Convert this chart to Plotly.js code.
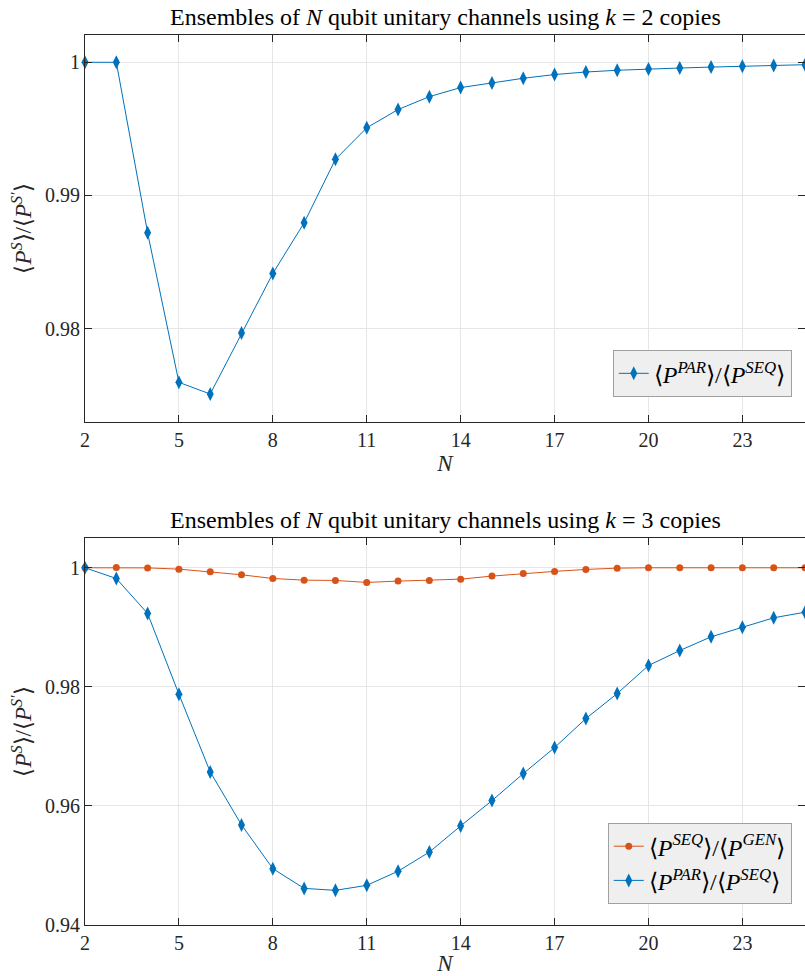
<!DOCTYPE html>
<html>
<head>
<meta charset="utf-8">
<script src="https://cdn.plot.ly/plotly-3.0.1.min.js"></script>
</head>
<body style="margin:0;background:#fff">
<div id="chartTop" style="width:805px;height:488px"></div>
<div id="chartBot" style="width:805px;height:488px"></div>
<script>
// ---- data ----
const N = [2,3,4,5,6,7,8,9,10,11,12,13,14,15,16,17,18,19,20,21,22,23,24,25];
const k2ParOverSeq = [1.0,1.0,0.98719,0.97596,0.97508,0.97967,0.98414,0.98794,0.99271,0.99508,
  0.99645,0.99742,0.99810,0.99845,0.99880,0.99908,0.99927,0.99940,0.99950,0.99957,0.99964,0.99970,0.99976,0.99982];
const k3SeqOverGen = [1.0,1.00003,0.99998,0.99977,0.99933,0.99882,0.99820,0.99792,0.99787,0.99754,
  0.99776,0.99787,0.99809,0.99860,0.99905,0.99939,0.99972,0.99994,1.0,1.0,1.0,1.0,1.0,1.0];
const k3ParOverSeq = [1.0,0.99820,0.99232,0.97876,0.96571,0.95681,0.94946,0.94615,0.94582,0.94666,
  0.94903,0.95225,0.95664,0.96089,0.96543,0.96980,0.97467,0.97887,0.98358,0.98610,0.98840,0.99002,0.99160,0.99254];
const xTicks = [2,5,8,11,14,17,20,23];
const yTicksTop = [0.98,0.99,1];
const yTickTextTop = ['0.98','0.99','1'];
const yTicksBot = [0.94,0.96,0.98,1];
const yTickTextBot = ['0.94','0.96','0.98','1'];
const labelParSeq = '⟨<i>P</i><sup><i>PAR</i></sup>⟩/⟨<i>P</i><sup><i>SEQ</i></sup>⟩';
const labelSeqGen = '⟨<i>P</i><sup><i>SEQ</i></sup>⟩/⟨<i>P</i><sup><i>GEN</i></sup>⟩';
const yLabel = '⟨<i>P</i><sup><i>S</i></sup>⟩/⟨<i>P</i><sup><i>S′</i></sup>⟩';
const titleTop = 'Ensembles of <i>N</i> qubit unitary channels using <i>k</i> = 2 copies';
const titleBot = 'Ensembles of <i>N</i> qubit unitary channels using <i>k</i> = 3 copies';

// ---- styles ----
const BLUE = '#0072BD', ORANGE = '#D95319';
const SERIF = '"Liberation Serif", serif';
const INK = '#262626';

function axisStyle(extra) {
  return Object.assign({
    showline: true, mirror: 'ticks', linecolor: INK, linewidth: 1,
    ticks: 'inside', ticklen: 7, tickcolor: INK,
    showgrid: true, gridcolor: '#e6e6e6', gridwidth: 1, zeroline: false,
    tickfont: {family: SERIF, size: 20, color: INK}
  }, extra);
}
function legendStyle(extra) {
  return Object.assign({
    bgcolor: '#efefef', bordercolor: '#a0a0a0', borderwidth: 1,
    font: {family: SERIF, size: 24, color: '#000'},
    xanchor: 'right', yanchor: 'bottom', xref: 'paper', yref: 'paper',
    itemwidth: 30, tracegroupgap: 0
  }, extra);
}
function titleAnn(text) {
  return {text: text, xref: 'paper', yref: 'paper', x: 0.5, y: 1, yshift: 3, showarrow: false,
    xanchor: 'center', yanchor: 'bottom', font: {family: SERIF, size: 24, color: '#000'}};
}
function xTitle() { return {text: '<i>N</i>', font: {family: SERIF, size: 23, color: INK}, standoff: 0}; }
function yTitle() { return {text: yLabel, font: {family: SERIF, size: 23, color: INK}, standoff: 6}; }

const cfg = {displayModeBar: false, staticPlot: true};

// ---- top chart (k = 2) ----
Plotly.newPlot('chartTop', [
  {x: N, y: k2ParOverSeq, mode: 'lines+markers', name: labelParSeq,
   line: {color: BLUE, width: 1}, marker: {symbol: 'diamond-tall', size: 10, color: BLUE}, cliponaxis: false}
], {
  width: 805, height: 488,
  margin: {l: 85, r: 0, t: 35, b: 66},
  paper_bgcolor: '#fff', plot_bgcolor: '#fff',
  font: {family: SERIF, color: INK, size: 20},
  showlegend: true,
  xaxis: axisStyle({range: [2, 25], tickvals: xTicks, title: xTitle()}),
  yaxis: axisStyle({range: [0.97298, 1.00205], tickvals: yTicksTop, ticktext: yTickTextTop, title: yTitle()}),
  legend: legendStyle({x: 0.9816, y: 0.064}),
  annotations: [titleAnn(titleTop)]
}, cfg);

// ---- bottom chart (k = 3) ----
Plotly.newPlot('chartBot', [
  {x: N, y: k3SeqOverGen, mode: 'lines+markers', name: labelSeqGen,
   line: {color: ORANGE, width: 1}, marker: {symbol: 'circle', size: 7, color: ORANGE}, cliponaxis: false},
  {x: N, y: k3ParOverSeq, mode: 'lines+markers', name: labelParSeq,
   line: {color: BLUE, width: 1}, marker: {symbol: 'diamond-tall', size: 10, color: BLUE}, cliponaxis: false}
], {
  width: 805, height: 488,
  margin: {l: 85, r: 0, t: 50, b: 51},
  paper_bgcolor: '#fff', plot_bgcolor: '#fff',
  font: {family: SERIF, color: INK, size: 20},
  showlegend: true,
  xaxis: axisStyle({range: [2, 25], tickvals: xTicks, title: xTitle()}),
  yaxis: axisStyle({range: [0.94, 1.005], tickvals: yTicksBot, ticktext: yTickTextBot, title: yTitle()}),
  legend: legendStyle({x: 0.9816, y: 0.054, traceorder: 'normal'}),
  annotations: [titleAnn(titleBot)]
}, cfg);
</script>
</body>
</html>
